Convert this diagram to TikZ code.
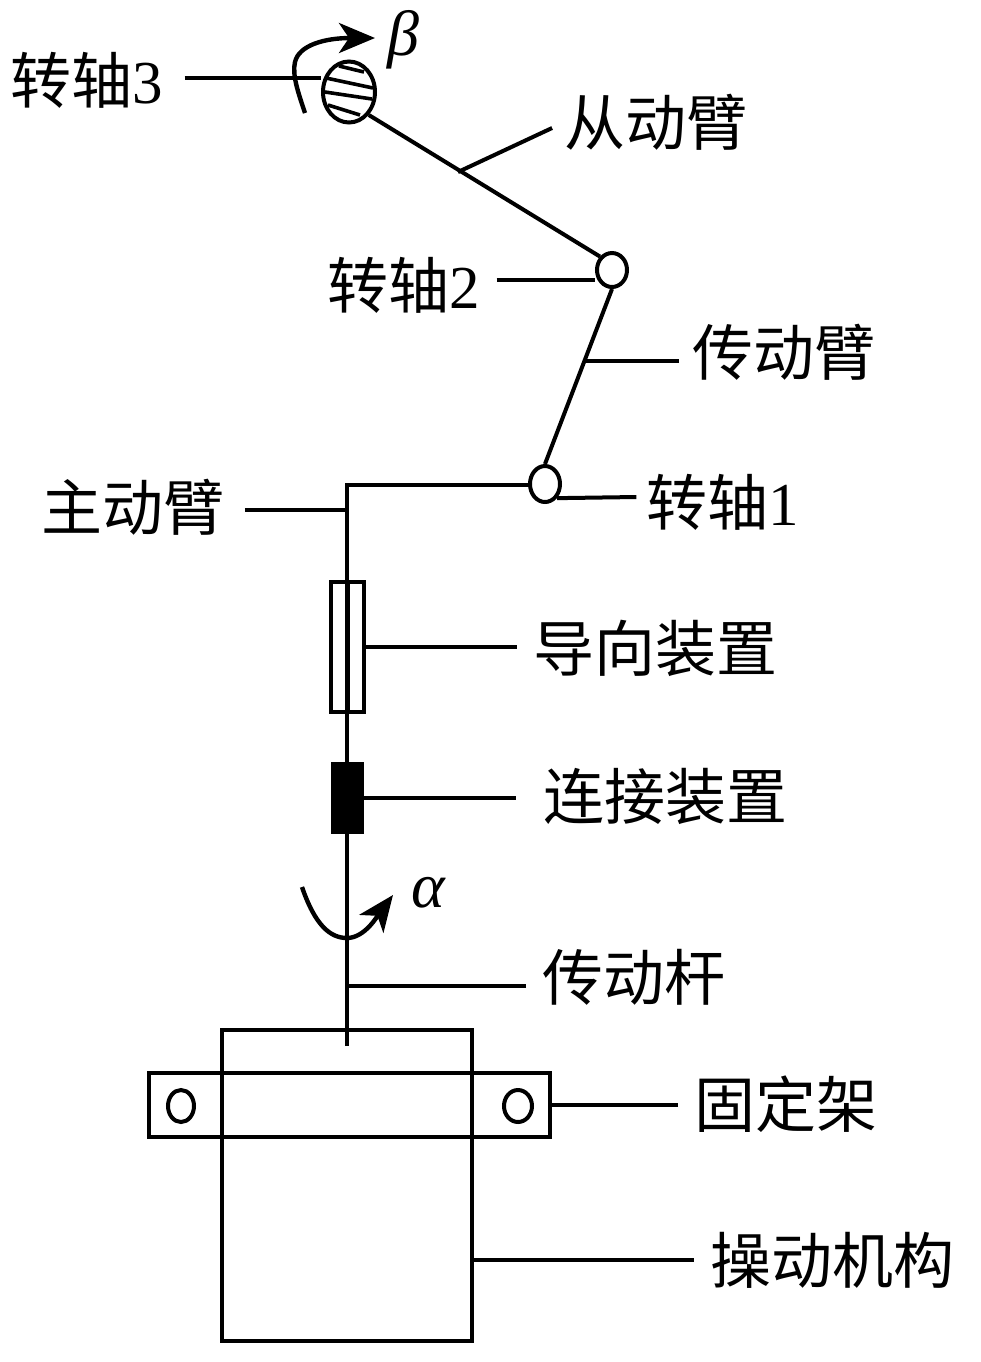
\documentclass[tikz,border=0pt]{standalone}
\usepackage{fontspec}
\setmainfont{Liberation Serif}
\newfontfamily\cjk{Noto Sans CJK SC}
\usepackage{amsmath}
\usetikzlibrary{arrows.meta,shapes.geometric}

\tikzset{
  part/.style={line width=2pt,draw=black},
  lbl/.style={font=\fontsize{30.5}{32}\selectfont\cjk,inner xsep=8pt,inner ysep=0pt},
  greek/.style={font=\fontsize{32}{34}\selectfont\itshape,inner sep=0pt},
  hinge/.style={part,ellipse,inner sep=0pt,fill=white},
  spin/.style={line width=2.2pt,-{Stealth[length=18pt,width=15pt,inset=5pt]}},
}

\begin{document}
\begin{tikzpicture}[x=0.5pt,y=-0.5pt,>=Latex]
\useasboundingbox (0,0) rectangle (981,1362);

% Operating box and fixing bar
\node[part,minimum width=125pt,minimum height=155.5pt,inner sep=0pt] (box) at (347,1185.5) {};
\node[part,minimum width=200.5pt,minimum height=32pt,inner sep=0pt] (bar) at (349.5,1105) {};
\node[hinge,minimum width=13pt,minimum height=16pt] (holeL) at (181,1106) {};
\node[hinge,minimum width=14pt,minimum height=16pt] (holeR) at (518,1106) {};

% Rod and main arm
\coordinate (rodEnd) at (347,1046);
\coordinate (elbow) at (347,485);
\node[hinge,minimum width=15pt,minimum height=18pt] (pivOne) at (545,484) {};
\draw[part] (rodEnd) -- (elbow) -- (pivOne.west |- elbow);

% Guide and coupling
\node[part,minimum width=16.5pt,minimum height=65pt,inner sep=0pt] (guide) at (347.5,647) {};
\draw[part] (guide.north) -- (guide.south);
\node[part,fill=black,minimum width=14.5pt,minimum height=34pt,inner sep=0pt] (coupler) at (347.5,798) {};

% Upper arms
\node[hinge,minimum width=15pt,minimum height=17pt] (pivTwo) at (612,270) {};
\node[part,ellipse,inner sep=0pt,minimum width=26pt,minimum height=30.5pt] (pivThree) at (349,92) {};
\draw[part] (pivOne.north) -- (pivTwo.south);
\draw[part] (pivThree.south east) -- (pivTwo.north west);

% Hatching
\draw[part,line width=1.8pt] (339,66) -- (364,72);
\draw[part,line width=1.8pt] (326,78) -- (373,88);
\draw[part,line width=1.8pt] (325,92) -- (372,99);
\draw[part,line width=1.8pt] (328,105) -- (360,115);

% Rotation arrows
\draw[spin] (305,113) .. controls (298,92) and (292,75) .. (295,62) .. controls (299,45) and (325,38) .. (375,38);
\draw[spin] (302,887) .. controls (315,925) and (330,938) .. (347,938) .. controls (365,938) and (378,915) .. (393,895);
\node[greek] (beta) at (403,40) {β};
\node[greek] (alpha) at (428,893) {α};

% Labels
\node[lbl,inner xsep=10.5pt] (zhouThree) at (87,80) {转轴{\rmfamily 3}};
\node[lbl,inner xsep=6pt] (follower) at (656,122) {从动臂};
\node[lbl] (zhouTwo) at (404,285) {转轴{\rmfamily 2}};
\node[lbl,inner xsep=6.5pt] (linkArm) at (784,352) {传动臂};
\node[lbl,inner xsep=5pt] (zhouOne) at (723,502) {转轴{\rmfamily 1}};
\node[lbl,inner xsep=10pt] (driver) at (133,507) {主动臂};
\node[lbl] (guideText) at (655,648) {导向装置};
\node[lbl,inner xsep=13.5pt] (couplerText) at (665,796) {连接装置};
\node[lbl] (rodText) at (634,977) {传动杆};
\node[lbl] (barText) at (786,1104) {固定架};
\node[lbl] (boxText) at (832,1260) {操动机构};

% Leaders
\coordinate (onFollower) at (458,172);
\coordinate (onLink) at (586,361);
\coordinate (onDriver) at (347,510);
\coordinate (onRod) at (347,986);
\draw[part] (zhouThree.east |- 0,78) -- (pivThree.west |- 0,78);
\draw[part] (follower.west |- 0,128) -- (onFollower);
\draw[part] (zhouTwo.east |- 0,280) -- (pivTwo.west |- 0,280);
\draw[part] (linkArm.west |- onLink) -- (onLink);
\draw[part] (zhouOne.west |- 0,497) -- (pivOne.south east);
\draw[part] (driver.east |- onDriver) -- (onDriver);
\draw[part] (guideText.west |- guide.east) -- (guide.east);
\draw[part] (couplerText.west |- coupler.east) -- (coupler.east);
\draw[part] (rodText.west |- onRod) -- (onRod);
\draw[part] (barText.west |- bar.east) -- (bar.east);
\draw[part] (boxText.west |- 0,1260) -- (box.east |- 0,1260);

\end{tikzpicture}
\end{document}
